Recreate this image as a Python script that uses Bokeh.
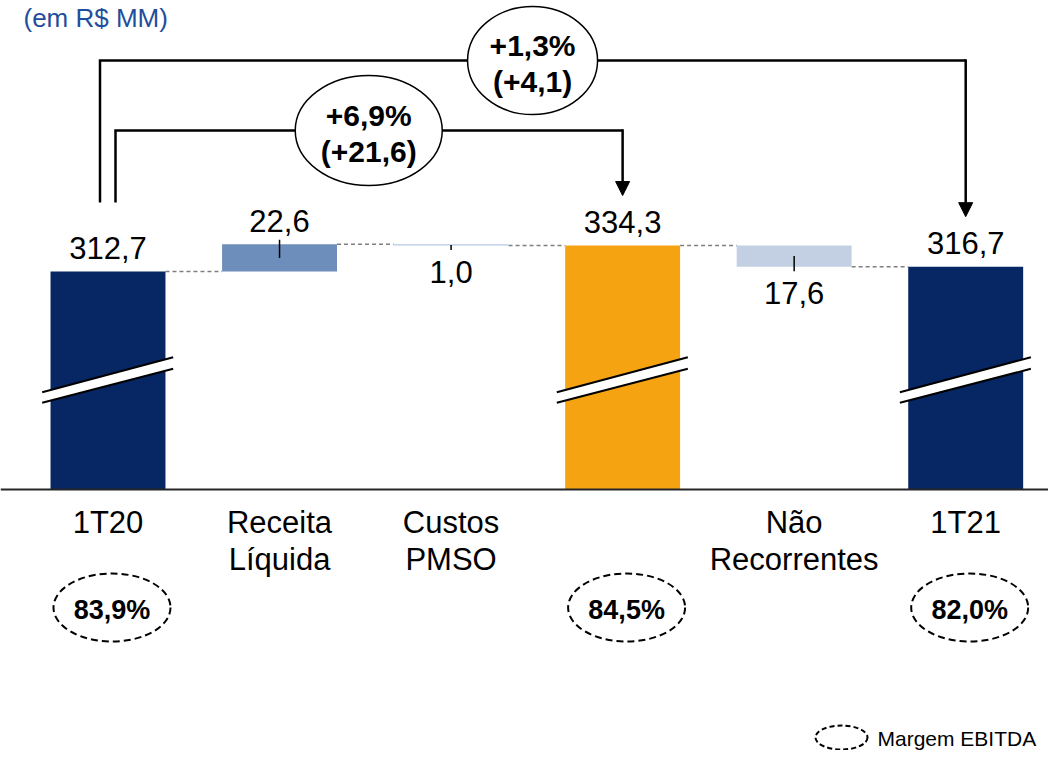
from bokeh.plotting import figure
from bokeh.models import Range1d, Arrow, NormalHead
from bokeh.core.properties import value
from bokeh.embed import file_html
from bokeh.resources import INLINE

# ---------------- data ----------------
categories = ["1T20", "Receita\nLíquida", "Custos\nPMSO", "", "Não\nRecorrentes", "1T21"]
kinds = ["total", "delta", "delta", "total", "delta", "total"]
values = [312.7, 22.6, -1.0, 334.3, -17.6, 316.7]
bar_colors = ["#062664", "#6D8EBA", "#B4C7E7", "#F5A311", "#C3CFE2", "#062664"]
margin_labels = ["83,9%", "", "", "84,5%", "", "82,0%"]
bracket_from = [0, 0]
bracket_to = [3, 5]
bracket_line1 = ["+6,9%", "+1,3%"]
bracket_line2 = ["(+21,6)", "(+4,1)"]
unit_text = "(em R$ MM)"
legend_text = "Margem EBITDA"

# ---------------- layout ----------------
W, H = 1048, 750
STEP_PX = 171.54          # px between bar centres
C0_PX = 107.5             # px of first bar centre
PX_PER_UNIT = 1.2         # vertical px per R$ MM
BASE = 131.0              # value shown at the (broken) axis line
BASE_PX = 489.0           # px of the axis line
BAR_W = 0.67

X0 = -C0_PX / STEP_PX
X1 = (W - C0_PX) / STEP_PX
Y1 = BASE + BASE_PX / PX_PER_UNIT
Y0 = BASE - (H - BASE_PX) / PX_PER_UNIT


def ux(px):
    return px / STEP_PX


def uy(px):
    return px / PX_PER_UNIT


FONT = value("Liberation Sans")

p = figure(width=W, height=H, x_range=Range1d(X0, X1), y_range=Range1d(Y0, Y1),
           output_backend="svg", toolbar_location=None, min_border=0,
           x_axis_type=None, y_axis_type=None)
p.grid.visible = False
p.outline_line_color = None
p.background_fill_color = "white"
p.border_fill_color = "white"

xs = list(range(len(values)))

# waterfall geometry
bottoms, tops, levels = [], [], []
running = 0.0
for k, v in zip(kinds, values):
    if k == "total":
        bottoms.append(BASE)
        tops.append(v)
        running = v
    else:
        start, end = running, running + v
        bottoms.append(min(start, end))
        tops.append(max(start, end))
        running = end
    levels.append(running)

# connectors
cx0, cx1, cy = [], [], []
for i in range(len(values) - 1):
    cx0.append(xs[i] + BAR_W / 2)
    cx1.append(xs[i + 1] - BAR_W / 2)
    cy.append(levels[i])
p.segment(x0=cx0, y0=cy, x1=cx1, y1=cy, line_color="#7F7F7F", line_width=1.5,
          line_dash="4 3")

# bars
p.vbar(x=xs, width=BAR_W, bottom=bottoms, top=tops, fill_color=bar_colors,
       line_color=None)

# axis baseline
p.line(x=[X0, X0 + ux(1050)], y=[BASE, BASE], line_color="#262626", line_width=2)

# axis break marks on total bars
for i, k in enumerate(kinds):
    if k != "total":
        continue
    c = xs[i]
    xl, xr = c - ux(65.8), c + ux(65.2)
    yl_up, yl_lo = BASE + uy(97.3), BASE + uy(86.7)
    yr_up, yr_lo = BASE + uy(132.3), BASE + uy(120.7)
    p.patch(x=[xl, xr, xr, xl], y=[yl_up, yr_up, yr_lo, yl_lo], fill_color="white",
            line_color=None)
    p.segment(x0=[xl, xl], y0=[yl_up, yl_lo], x1=[xr, xr], y1=[yr_up, yr_lo],
              line_color="black", line_width=2)

# leader ticks and value labels
tx, ty0, ty1 = [], [], []
lx, ly, lt = [], [], []
for i, (k, v) in enumerate(zip(kinds, values)):
    txt = f"{abs(v):.1f}".replace(".", ",")
    lx.append(xs[i])
    lt.append(txt)
    if k == "total" or v > 0:
        ly.append(tops[i] + uy(23.4))
    else:
        ly.append(bottoms[i] - uy(26.8))
    if k == "delta":
        mid = (bottoms[i] + tops[i]) / 2
        tx.append(xs[i])
        ty0.append(mid)
        ty1.append(tops[i] + uy(4.5) if v > 0 else bottoms[i] - uy(4.5))
p.segment(x0=tx, y0=ty0, x1=tx, y1=ty1, line_color="black", line_width=1.5)
p.text(x=lx, y=ly, text=lt, text_font=FONT, text_font_size="31px",
       text_align="center", text_baseline="middle", text_color="black")

# category labels (two lines)
line1 = [c.split("\n")[0] for c in categories]
line2 = [c.split("\n")[1] if "\n" in c else "" for c in categories]
p.text(x=xs, y=[BASE - uy(33)] * len(xs), text=line1, text_font=FONT,
       text_font_size="31px", text_align="center", text_baseline="middle",
       text_color="black")
p.text(x=xs, y=[BASE - uy(70)] * len(xs), text=line2, text_font=FONT,
       text_font_size="31px", text_align="center", text_baseline="middle",
       text_color="black")

# EBITDA margin ellipses
mx = [xs[i] + ux(4) for i, m in enumerate(margin_labels) if m]
mt = [m for m in margin_labels if m]
p.ellipse(x=mx, y=[BASE - uy(118)] * len(mx), width=117, height=68,
          width_units="screen", height_units="screen", fill_color=None,
          line_color="black", line_width=2, line_dash="7 4")
p.text(x=mx, y=[BASE - uy(120)] * len(mx), text=mt, text_font=FONT,
       text_font_size="27px", text_font_style="bold", text_align="center",
       text_baseline="middle", text_color="black")

# brackets with arrows
level_px = {3: 359.0, 5: 429.0}
left_off = {3: 7.5, 5: -8.0}
ell_size = {3: (147, 110), 5: (130, 108)}
ell_dx = {3: 0.02, 5: -0.025}
for f, t, t1, t2 in zip(bracket_from, bracket_to, bracket_line1, bracket_line2):
    xl = xs[f] + ux(left_off[t])
    xr = xs[t]
    ylev = BASE + uy(level_px[t])
    ystart = tops[f] + uy(69)
    ytip = tops[t] + uy(50)
    p.line(x=[xl, xl, xr], y=[ystart, ylev, ylev], line_color="black", line_width=2.5,
           line_join="miter")
    p.add_layout(Arrow(end=NormalHead(size=14, fill_color="black", line_color="black"),
                       x_start=xr, y_start=ylev + uy(1.2), x_end=xr, y_end=ytip,
                       line_color="black", line_width=2.5))
    ecx = (xs[f] + xs[t]) / 2 + ell_dx[t]
    ew, eh = ell_size[t]
    p.ellipse(x=[ecx], y=[ylev], width=ew, height=eh, width_units="screen",
              height_units="screen", fill_color="white", line_color="black",
              line_width=1.5)
    p.text(x=[ecx, ecx], y=[ylev + uy(15), ylev - uy(20.5)], text=[t1, t2],
           text_font=FONT, text_font_size="30px", text_font_style="bold",
           text_align="center", text_baseline="middle", text_color="black")

# units text
p.text(x=[X0 + ux(23)], y=[Y1 - uy(17)], text=[unit_text], text_font=FONT,
       text_font_size="26px", text_align="left", text_baseline="middle",
       text_color="#1F4E9C")

# legend
p.ellipse(x=[X0 + ux(841)], y=[Y0 + uy(13)], width=52, height=24,
          width_units="screen", height_units="screen", fill_color=None,
          line_color="black", line_width=2, line_dash="5 3")
p.text(x=[X0 + ux(877)], y=[Y0 + uy(12)], text=[legend_text], text_font=FONT,
       text_font_size="21px", text_align="left", text_baseline="middle",
       text_color="black")

open("out.html", "w").write(file_html(p, INLINE))
